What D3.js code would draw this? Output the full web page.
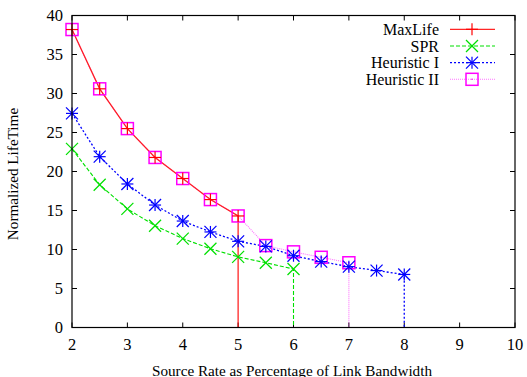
<!DOCTYPE html>
<html>
<head>
<meta charset="utf-8">
<script src="https://cdn.jsdelivr.net/npm/d3@7"></script>
<style>
  body { margin: 0; background: #fff; }
  text { font-family: "Liberation Serif", "Times New Roman", serif; fill: #000; }
</style>
</head>
<body>
<div id="chart"></div>
<script>
// series data
const maxLifeX = [2, 2.5, 3, 3.5, 4, 4.5, 5];
const maxLifeY = [38.2, 30.6, 25.5, 21.8, 19.1, 16.4, 14.3];
const sprX = [2, 2.5, 3, 3.5, 4, 4.5, 5, 5.5, 6];
const sprY = [22.9, 18.3, 15.2, 13.05, 11.4, 10.1, 9.05, 8.3, 7.5];
const heur1X = [2, 2.5, 3, 3.5, 4, 4.5, 5, 5.5, 6, 6.5, 7, 7.5, 8];
const heur1Y = [27.45, 21.9, 18.4, 15.7, 13.65, 12.25, 11.05, 10.4, 9.2, 8.45, 7.8, 7.3, 6.8];
const heur2X = [2, 2.5, 3, 3.5, 4, 4.5, 5, 5.5, 6, 6.5, 7];
const heur2Y = [38.2, 30.6, 25.5, 21.8, 19.1, 16.4, 14.3, 10.5, 9.7, 9.0, 8.3];

const xTicks = [2, 3, 4, 5, 6, 7, 8, 9, 10];
const yTicks = [0, 5, 10, 15, 20, 25, 30, 35, 40];

const series = [
    { name: "MaxLife", xs: maxLifeX, ys: maxLifeY, color: "#ff0000", dash: null, width: 1.3, opacity: 0.85, mark: "plus" },
    { name: "SPR", xs: sprX, ys: sprY, color: "#00e000", dash: "4,2", width: 1.1, opacity: 1, mark: "cross" },
    { name: "Heuristic I", xs: heur1X, ys: heur1Y, color: "#0000ff", dash: "2,2", width: 1.3, opacity: 1, mark: "star" },
    { name: "Heuristic II", xs: heur2X, ys: heur2Y, color: "#ff00ff", dash: "1,1", width: 1.1, opacity: 0.55, mark: "box" }
];

const W = 527, H = 377;
const margin = { left: 72, right: 12, top: 15.5, bottom: 49.5 };

const svg = d3.select("#chart").append("svg")
    .attr("width", W)
    .attr("height", H);

const x = d3.scaleLinear().domain([2, 10]).range([margin.left, W - margin.right]);
const y = d3.scaleLinear().domain([0, 40]).range([H - margin.bottom, margin.top]);

// ticks on all four sides, pointing inward
const tickLen = 5;
const axes = svg.append("g").attr("stroke", "#000").attr("stroke-width", 1);
xTicks.forEach(t => {
    axes.append("line").attr("x1", x(t)).attr("x2", x(t)).attr("y1", y(0)).attr("y2", y(0) - tickLen);
    axes.append("line").attr("x1", x(t)).attr("x2", x(t)).attr("y1", y(40)).attr("y2", y(40) + tickLen);
});
yTicks.forEach(t => {
    axes.append("line").attr("x1", x(2)).attr("x2", x(2) + tickLen).attr("y1", y(t)).attr("y2", y(t));
    axes.append("line").attr("x1", x(10)).attr("x2", x(10) - tickLen).attr("y1", y(t)).attr("y2", y(t));
});

svg.append("g").selectAll("text")
    .data(xTicks)
    .enter()
    .append("text")
    .attr("x", d => x(d))
    .attr("y", y(0) + 22.5)
    .attr("text-anchor", "middle")
    .style("font-size", "16.5px")
    .text(d => d);

svg.append("g").selectAll("text")
    .data(yTicks)
    .enter()
    .append("text")
    .attr("x", x(2) - 9)
    .attr("y", d => y(d))
    .attr("dy", "0.35em")
    .attr("text-anchor", "end")
    .style("font-size", "16.5px")
    .text(d => d);

svg.append("text")
    .attr("x", 292)
    .attr("y", 375.5)
    .attr("text-anchor", "middle")
    .style("font-size", "15.2px")
    .text("Source Rate as Percentage of Link Bandwidth");

svg.append("text")
    .attr("transform", "translate(18,174) rotate(-90)")
    .attr("text-anchor", "middle")
    .style("font-size", "15.2px")
    .text("Normalized LifeTime");

// marker drawing
function drawMark(g, kind, cx, cy, color) {
    const s = 6;
    const m = g.append("g").attr("stroke", color).attr("stroke-width", 1.2).attr("fill", "none");
    if (kind === "plus") {
        m.append("line").attr("x1", cx - s).attr("x2", cx + s).attr("y1", cy).attr("y2", cy);
        m.append("line").attr("x1", cx).attr("x2", cx).attr("y1", cy - s).attr("y2", cy + s);
    } else if (kind === "cross") {
        m.append("line").attr("x1", cx - s).attr("x2", cx + s).attr("y1", cy - s).attr("y2", cy + s);
        m.append("line").attr("x1", cx - s).attr("x2", cx + s).attr("y1", cy + s).attr("y2", cy - s);
    } else if (kind === "star") {
        m.append("line").attr("x1", cx - s).attr("x2", cx + s).attr("y1", cy).attr("y2", cy);
        m.append("line").attr("x1", cx).attr("x2", cx).attr("y1", cy - s).attr("y2", cy + s);
        m.append("line").attr("x1", cx - s).attr("x2", cx + s).attr("y1", cy - s).attr("y2", cy + s);
        m.append("line").attr("x1", cx - s).attr("x2", cx + s).attr("y1", cy + s).attr("y2", cy - s);
    } else if (kind === "box") {
        m.append("rect").attr("x", cx - s).attr("y", cy - s).attr("width", 2 * s).attr("height", 2 * s)
            .attr("stroke-width", 1.5);
        m.append("circle").attr("cx", cx).attr("cy", cy).attr("r", 0.8).attr("fill", color).attr("stroke", "none");
    }
}

const line = d3.line().x(d => x(d[0])).y(d => y(d[1]));
const plot = svg.append("g");

series.slice().reverse().forEach(s => {
    const pts = s.xs.map((v, i) => [v, s.ys[i]]);
    // series falls to zero after its last point
    pts.push([s.xs[s.xs.length - 1], 0]);
    plot.append("path")
        .datum(pts)
        .attr("d", line)
        .attr("fill", "none")
        .attr("stroke", s.color)
        .attr("stroke-width", s.width)
        .attr("stroke-opacity", s.opacity)
        .attr("stroke-dasharray", s.dash);
});
series.slice().reverse().forEach(s => {
    s.xs.forEach((v, i) => drawMark(plot, s.mark, x(v), y(s.ys[i]), s.color));
});

// legend
const legend = svg.append("g");
series.forEach((s, i) => {
    const ly = 29.3 + i * 16.67;
    legend.append("text")
        .attr("x", 439)
        .attr("y", ly)
        .attr("dy", "0.35em")
        .attr("text-anchor", "end")
        .style("font-size", "16px")
        .text(s.name);
    legend.append("line")
        .attr("x1", 450).attr("x2", 495)
        .attr("y1", ly).attr("y2", ly)
        .attr("stroke", s.color)
        .attr("stroke-width", s.width)
        .attr("stroke-opacity", s.opacity)
        .attr("stroke-dasharray", s.dash);
    drawMark(legend, s.mark, 472, ly, s.color);
});

// frame
svg.append("rect")
    .attr("x", x(2)).attr("y", y(40))
    .attr("width", x(10) - x(2)).attr("height", y(0) - y(40))
    .attr("fill", "none")
    .attr("stroke", "#000")
    .attr("stroke-width", 1.2);
</script>
</body>
</html>
